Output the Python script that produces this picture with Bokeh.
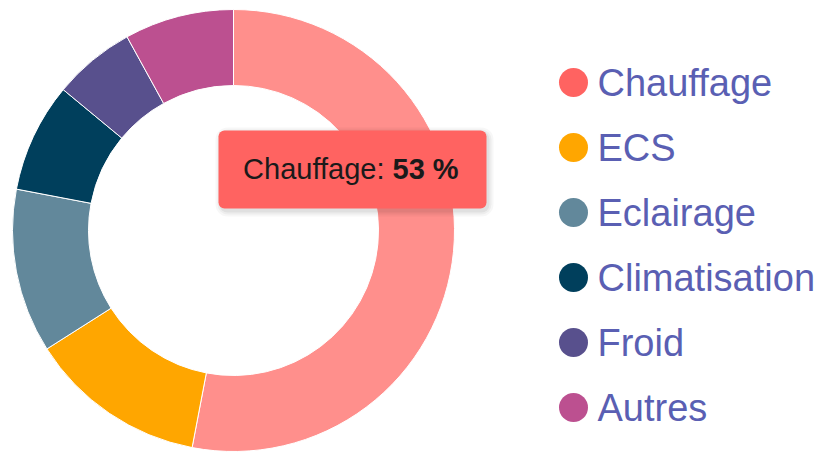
import numpy as np
from bokeh.plotting import figure
from bokeh.models import Range1d, ColumnDataSource, BoxAnnotation
from bokeh.core.properties import value
from bokeh.embed import file_html
from bokeh.resources import INLINE

categories = ["Chauffage", "ECS", "Eclairage", "Climatisation", "Froid", "Autres"]
shares = [53, 13, 12, 8, 6, 8]
colors = ["#ff6361", "#ffa600", "#62889b", "#003f5c", "#58508d", "#bc5090"]
slice_colors = ["#ff8f8c", "#ffa600", "#62889b", "#003f5c", "#58508d", "#bc5090"]
highlight_index = 0

W, H = 820, 454
FONT = "Liberation Sans"

p = figure(width=W, height=H, output_backend="svg", toolbar_location=None,
           x_range=Range1d(0, W), y_range=Range1d(0, H),
           min_border=0, outline_line_color=None)
p.axis.visible = False
p.grid.visible = False
p.background_fill_color = "white"
p.border_fill_color = "white"

def Y(page_y):
    return H - page_y

# donut
cx, cy = 233, Y(230)
frac = np.array(shares, dtype=float) / sum(shares)
cum = np.concatenate([[0], np.cumsum(frac)])
start = np.pi / 2 - cum[:-1] * 2 * np.pi
end = np.pi / 2 - cum[1:] * 2 * np.pi
src = ColumnDataSource(dict(start=start, end=end, color=slice_colors,
                            x=[cx] * len(shares), y=[cy] * len(shares)))
p.annular_wedge(x="x", y="y", inner_radius=145, outer_radius=221,
                start_angle="start", end_angle="end", direction="clock",
                fill_color="color", line_color="white", line_width=1, source=src)

# tooltip
tl, tr, tt, tb = 218, 486, 130, 208
for k, a in [(6, 0.03), (4, 0.04), (2, 0.05)]:
    p.add_layout(BoxAnnotation(left=tl - k + 3, right=tr + k + 1, top=Y(tt - k + 3), bottom=Y(tb + k + 2),
                               fill_color="#000000", fill_alpha=a, line_color=None,
                               border_radius=6 + k))
p.add_layout(BoxAnnotation(left=tl, right=tr, top=Y(tt), bottom=Y(tb),
                           fill_color="#ff6361", fill_alpha=1.0, line_color=None,
                           border_radius=6))
split_x = 392
p.text(x=[split_x], y=[Y(168)], text=[categories[highlight_index] + ": "],
       text_font=value(FONT), text_font_size="29px", text_color="#1a1a1a",
       text_align="right", text_baseline="middle", level="overlay")
p.text(x=[split_x], y=[Y(168)], text=[f"{shares[highlight_index]} %"],
       text_font=value(FONT), text_font_size="29px", text_font_style="bold",
       text_color="#1a1a1a", text_align="left", text_baseline="middle", level="overlay")

# legend
rows = [82 + 65 * i for i in range(len(categories))]
ly = [Y(r) for r in rows]
p.scatter(x=[573] * len(categories), y=ly, size=29, marker="circle",
          fill_color=colors, line_color=None)
p.text(x=[597] * len(categories), y=ly, text=categories,
       text_font=value(FONT), text_font_size="38px", text_color="#5a5fb3",
       text_align="left", text_baseline="middle")

open("out.html", "w").write(file_html(p, INLINE))
